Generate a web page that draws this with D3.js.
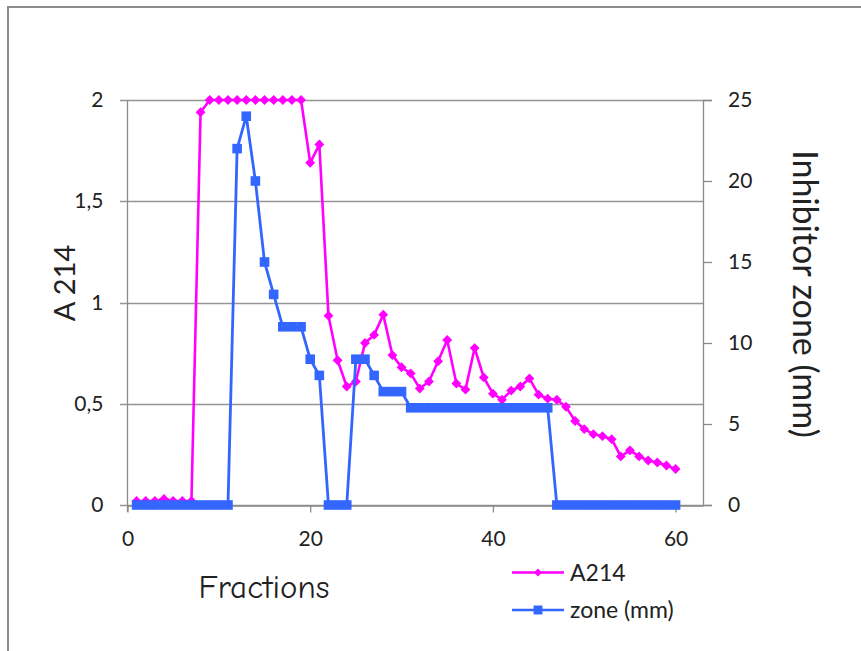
<!DOCTYPE html>
<html>
<head>
<meta charset="utf-8">
<script src="https://cdn.jsdelivr.net/npm/d3@7"></script>
<style>
  html, body { margin: 0; padding: 0; background: #fff; }
  svg { display: block; }
  text { font-family: Lato, "Open Sans", sans-serif; fill: #222; }
</style>
</head>
<body>
<svg id="chart" width="861" height="651"></svg>
<script>
// Fraction numbers 1..60
const fractions = [
  1,2,3,4,5,6,7,8,9,10,11,12,13,14,15,16,17,18,19,20,
  21,22,23,24,25,26,27,28,29,30,31,32,33,34,35,36,37,38,39,40,
  41,42,43,44,45,46,47,48,49,50,51,52,53,54,55,56,57,58,59,60
];
// Absorbance at 214 nm
const a214 = [
  0.02,0.02,0.02,0.03,0.02,0.02,0.02,1.94,2,2,2,2,2,2,2,2,2,2,2,1.69,
  1.78,0.935,0.715,0.585,0.61,0.80,0.84,0.94,0.74,0.68,0.65,0.575,0.61,0.71,0.815,0.60,0.57,0.775,0.63,0.55,
  0.52,0.565,0.585,0.625,0.545,0.525,0.52,0.485,0.415,0.375,0.35,0.34,0.325,0.24,0.27,0.24,0.22,0.21,0.195,0.178
];
// Inhibition zone diameter (mm)
const zone = [
  0,0,0,0,0,0,0,0,0,0,0,22,24,20,15,13,11,11,11,9,
  8,0,0,0,9,9,8,7,7,7,6,6,6,6,6,6,6,6,6,6,
  6,6,6,6,6,6,0,0,0,0,0,0,0,0,0,0,0,0,0,0
];
const xTicks = [0, 20, 40, 60];
const leftTicks = [0, 0.5, 1, 1.5, 2];
const rightTicks = [0, 5, 10, 15, 20, 25];
const seriesNames = ["A214", "zone (mm)"];

const colA = "#ff00ff";
const colZ = "#3366ff";
const axisCol = "#8a8a8a";

const svg = d3.select("#chart");

// Outer frame
svg.append("path")
  .attr("d", "M8,651 L8,7 L861,7")
  .attr("fill", "none").attr("stroke", "#8c8c8c").attr("stroke-width", 2);

const x = d3.scaleLinear().domain([0, 63]).range([127.5, 703]);
const yL = d3.scaleLinear().domain([0, 2]).range([505, 100]);
const yR = d3.scaleLinear().domain([0, 25]).range([505, 100]);

const locale = d3.formatLocale({decimal: ",", thousands: ".", grouping: [3], currency: ["", ""]});
const fmt = locale.format(".1~f");

// Horizontal gridlines (left axis scale)
svg.append("g").selectAll("line").data(leftTicks).join("line")
  .attr("x1", 120).attr("x2", 703)
  .attr("y1", d => Math.round(yL(d)) + 0.5).attr("y2", d => Math.round(yL(d)) + 0.5)
  .attr("stroke", "#959595").attr("stroke-width", 1.3);

// Left axis
const gL = svg.append("g").attr("transform", "translate(127.5,0)")
  .call(d3.axisLeft(yL).tickValues(leftTicks).tickSize(0).tickPadding(24).tickFormat(fmt));
gL.select(".domain").remove();
gL.selectAll("text").style("font-size", "21px").style("font-family", "Lato, sans-serif").attr("fill", "#222");
svg.append("line").attr("x1", 127.5).attr("x2", 127.5).attr("y1", 100).attr("y2", 512)
  .attr("stroke", axisCol).attr("stroke-width", 1.3);

// Right axis
const gR = svg.append("g").attr("transform", "translate(703,0)")
  .call(d3.axisRight(yR).tickValues(rightTicks).tickSize(9).tickPadding(16));
gR.select(".domain").attr("stroke", axisCol).attr("stroke-width", 1.3);
gR.selectAll(".tick line").attr("stroke", axisCol).attr("stroke-width", 1.3);
gR.selectAll("text").style("font-size", "21px").style("font-family", "Lato, sans-serif").attr("fill", "#222");

// Bottom axis
const gB = svg.append("g").attr("transform", "translate(0,505.5)")
  .call(d3.axisBottom(x).tickValues(xTicks).tickSize(7).tickPadding(19).tickSizeOuter(0));
gB.select(".domain").attr("stroke", axisCol).attr("stroke-width", 1.3);
gB.selectAll(".tick line").attr("stroke", axisCol).attr("stroke-width", 1.3);
gB.selectAll("text").style("font-size", "21px").style("font-family", "Lato, sans-serif").attr("fill", "#222");

// Axis titles
svg.append("text")
  .attr("transform", "translate(75,283) rotate(-90)")
  .attr("text-anchor", "middle")
  .style("font-size", "29px")
  .text("A 214");
svg.append("text")
  .attr("transform", "translate(793,294) rotate(90)")
  .attr("text-anchor", "middle")
  .style("font-size", "34px")
  .text("Inhibitor zone (mm)");
svg.append("text")
  .attr("x", 264).attr("y", 598)
  .attr("text-anchor", "middle")
  .style("font-size", "33px")
  .style("font-weight", "500")
  .style("font-family", "'Comic Sans MS', 'Comic Neue', Lato, sans-serif")
  .text("Fractions");

// Series
const dataA = fractions.map((f, i) => ({f, v: a214[i]}));
const dataZ = fractions.map((f, i) => ({f, v: zone[i]}));

const diamond = d3.symbol().type(d3.symbolDiamond2).size(62);
const square = d3.symbol().type(d3.symbolSquare).size(92);

svg.append("path").datum(dataA)
  .attr("fill", "none").attr("stroke", colA).attr("stroke-width", 2.6)
  .attr("d", d3.line().x(d => x(d.f)).y(d => yL(d.v)));
svg.append("g").selectAll("path").data(dataA).join("path")
  .attr("transform", d => `translate(${x(d.f)},${yL(d.v)})`)
  .attr("d", diamond).attr("fill", colA);

svg.append("path").datum(dataZ)
  .attr("fill", "none").attr("stroke", colZ).attr("stroke-width", 2.8)
  .attr("d", d3.line().x(d => x(d.f)).y(d => yR(d.v)));
svg.append("g").selectAll("path").data(dataZ).join("path")
  .attr("transform", d => `translate(${x(d.f)},${yR(d.v)})`)
  .attr("d", square).attr("fill", colZ);

// Legend
const legend = svg.append("g");
const legItems = [
  {name: seriesNames[0], color: colA, sym: d3.symbol().type(d3.symbolDiamond2).size(40), y: 572.5, w: 2.4},
  {name: seriesNames[1], color: colZ, sym: d3.symbol().type(d3.symbolSquare).size(80), y: 610, w: 2.6}
];
legItems.forEach(it => {
  legend.append("line").attr("x1", 512).attr("x2", 564).attr("y1", it.y).attr("y2", it.y)
    .attr("stroke", it.color).attr("stroke-width", it.w);
  legend.append("path").attr("transform", `translate(538,${it.y})`).attr("d", it.sym).attr("fill", it.color);
  legend.append("text").attr("x", 570).attr("y", it.y).attr("dy", "0.35em")
    .style("font-size", "23px").text(it.name);
});
</script>
</body>
</html>
